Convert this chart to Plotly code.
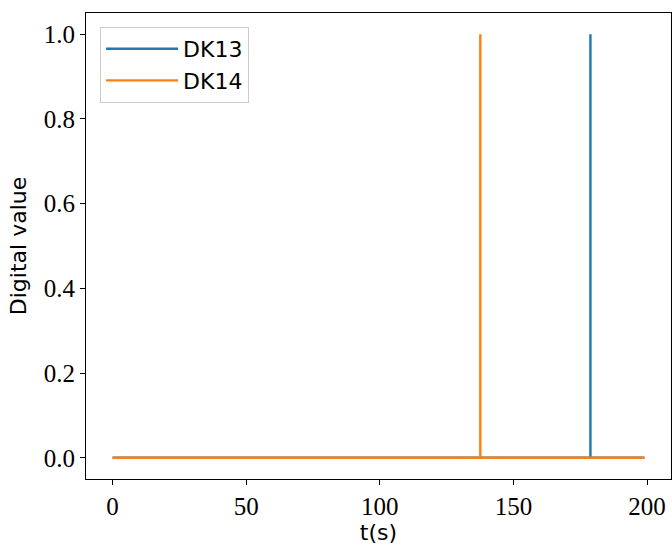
import plotly.graph_objects as go

# Digital channel samples: time (s) and state
t_dk13 = [0, 178.8, 178.8, 178.8, 199]
v_dk13 = [0, 0, 1, 0, 0]
t_dk14 = [0, 137.6, 137.6, 137.6, 199]
v_dk14 = [0, 0, 1, 0, 0]

x_ticks = [0, 50, 100, 150, 200]
y_ticks = [0.0, 0.2, 0.4, 0.6, 0.8, 1.0]

BLUE = "#1f77b4"
ORANGE = "#ff7f0e"
SERIF = "Liberation Serif, DejaVu Serif, serif"
SANS = "DejaVu Sans, sans-serif"

fig = go.Figure()
fig.add_trace(go.Scatter(x=t_dk13, y=v_dk13, mode="lines", name="DK13",
                         legendgroup="a", line=dict(color=BLUE, width=2.4)))
fig.add_trace(go.Scatter(x=t_dk14, y=v_dk14, mode="lines", name="DK14",
                         legendgroup="b", line=dict(color=ORANGE, width=2.4)))

axis_common = dict(showgrid=False, zeroline=False, showline=True, linecolor="black",
                   linewidth=1.2, mirror=True, ticks="outside", ticklen=5,
                   tickcolor="black", tickwidth=1.2,
                   tickfont=dict(family=SERIF, size=25, color="black"))

fig.update_xaxes(range=[-9.95, 208.95], tickvals=x_ticks,
                 ticktext=[str(v) for v in x_ticks],
                 title=dict(text="t(s)", font=dict(family=SANS, size=22, color="black"),
                            standoff=4),
                 **axis_common)
fig.update_yaxes(range=[-0.05, 1.05], tickvals=y_ticks,
                 ticktext=[f"{v:.1f}" for v in y_ticks],
                 title=dict(text="Digital value", font=dict(family=SANS, size=22, color="black"),
                            standoff=10),
                 **axis_common)

fig.update_layout(
    width=672, height=548,
    margin=dict(l=86, r=1, t=13, b=69),
    plot_bgcolor="white", paper_bgcolor="white",
    showlegend=True,
    legend=dict(x=0.024, y=0.97, xanchor="left", yanchor="top",
                bgcolor="rgba(255,255,255,0.8)", bordercolor="#cccccc", borderwidth=1,
                font=dict(family=SANS, size=22, color="black"),
                traceorder="normal", tracegroupgap=6, itemwidth=72,
                entrywidth=165, entrywidthmode="pixels"),
)

fig.write_html("out.html")
